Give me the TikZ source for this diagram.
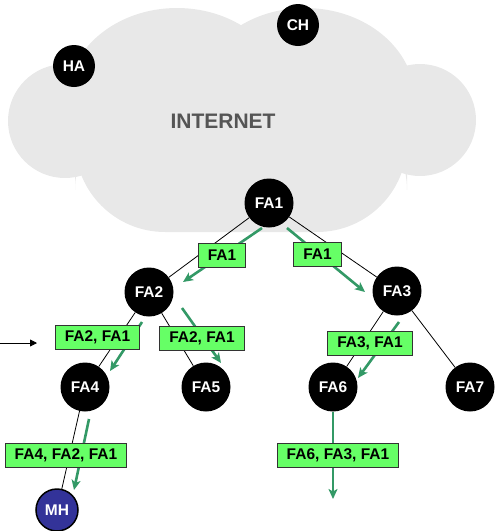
\documentclass[tikz,border=0pt]{standalone}
\usepackage{fontspec}
\setmainfont{Liberation Sans}
\usetikzlibrary{arrows.meta}
\definecolor{cloudgray}{RGB}{232,232,232}
\definecolor{arrowgreen}{RGB}{51,153,102}
\definecolor{boxgreen}{RGB}{102,255,102}
\definecolor{mhblue}{RGB}{51,51,153}
\definecolor{nettext}{RGB}{85,85,85}
\begin{document}
\begin{tikzpicture}[x=1pt,y=-1pt,
  agent/.style={circle,fill=black,inner sep=0pt,minimum size=49pt,text=white,font=\fontsize{15.5}{15.5}\selectfont\bfseries},
  smallagent/.style={agent,minimum size=42pt},
  mhnode/.style={smallagent,fill=mhblue,draw=black,line width=1.5pt},
  tree/.style={draw=black,line width=0.8pt},
  flow/.style={draw=arrowgreen,line width=2.6pt,-{Stealth[length=10pt,width=9pt,inset=2.5pt]}},
  label box/.style={rectangle,fill=boxgreen,draw=black!80,line width=1pt,inner xsep=9.5pt,minimum height=24pt,inner ysep=0pt,font=\fontsize{15.5}{15.5}\selectfont\bfseries},
  pointer/.style={draw=black,line width=0.8pt,-{Triangle[length=7pt,width=7pt]}}
]
\useasboundingbox (0,0) rectangle (495,531);
% cloud
\fill[cloudgray] (177,100) ellipse [x radius=110, y radius=92];
\fill[cloudgray] (305,100) ellipse [x radius=110, y radius=92];
\fill[cloudgray] (65,121) circle [radius=57];
\fill[cloudgray] (420,120) circle [radius=56];
\fill[cloudgray,rounded corners=90pt] (75,100) rectangle (407,232);
\node[text=nettext,font=\fontsize{21}{21}\selectfont\bfseries] (internet) at (223,121) {INTERNET};

% agents
\node[smallagent] (HA) at (74,66) {HA};
\node[smallagent] (CH) at (298,25) {CH};
\node[agent] (FA1) at (269,203) {FA1};
\node[agent] (FA2) at (149,292) {FA2};
\node[agent] (FA3) at (397,291) {FA3};
\node[agent] (FA4) at (85,387) {FA4};
\node[agent] (FA5) at (206,387) {FA5};
\node[agent] (FA6) at (333,387) {FA6};
\node[agent] (FA7) at (470,387) {FA7};
\node[mhnode] (MH) at (57,510) {MH};

% tree
\draw[tree] (FA1) -- (FA2);
\draw[tree] (FA1) -- (FA3);
\draw[tree] (FA2) -- (FA4);
\draw[tree] (FA2) -- (FA5);
\draw[tree] (FA3) -- (FA6);
\draw[tree] (FA3) -- (FA7);
\draw[tree] (FA4) -- (MH);

% flow arrows
\coordinate (a1s) at (262,228); \coordinate (a1e) at (183,282);
\coordinate (a2s) at (287,228); \coordinate (a2e) at (365,292);
\coordinate (a3s) at (142,322); \coordinate (a3e) at (110,371);
\coordinate (a4s) at (182,308); \coordinate (a4e) at (221,363);
\coordinate (a5s) at (399,322); \coordinate (a5e) at (358,378);
\coordinate (a6s) at (89,419); \coordinate (a6e) at (74,490);
\coordinate (a7e) at (333,499);
\draw[flow] (a1s) -- (a1e);
\draw[flow] (a2s) -- (a2e);
\draw[flow] (a3s) -- (a3e);
\draw[flow] (a4s) -- (a4e);
\draw[flow] (a5s) -- (a5e);
\draw[flow] (a6s) -- (a6e);
\draw[flow] (FA6.south) -- (a7e);

% labels
\node[label box] (b1) at (222,255) {FA1};
\node[label box] (b2) at (317.5,254) {FA1};
\node[label box] (b3) at (97.5,337) {FA2, FA1};
\node[label box] (b4) at (202,338) {FA2, FA1};
\node[label box] (b5) at (370,343) {FA3, FA1};
\node[label box] (b6) at (66,455) {FA4, FA2, FA1};
\node[label box] (b7) at (338,455) {FA6, FA3, FA1};

% pointer
\coordinate (ps) at (0,343);
\coordinate (pe) at (37,343);
\draw[pointer] (ps) -- (pe);
\end{tikzpicture}
\end{document}
